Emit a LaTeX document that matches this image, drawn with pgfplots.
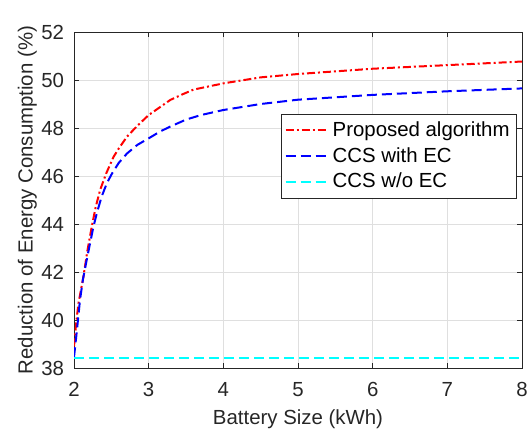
\documentclass[border=0pt]{standalone}
\usepackage{pgfplots}
\pgfplotsset{compat=1.18}
\usepackage{fontspec}
\setmainfont{Liberation Sans}
\definecolor{axgray}{RGB}{38,38,38}
\definecolor{gridgray}{RGB}{223,223,223}
\definecolor{mcyan}{RGB}{0,255,255}

\begin{document}
\fontsize{10.2pt}{12pt}\selectfont
\begin{tikzpicture}
\begin{axis}[
    scale only axis,
    width=224pt, height=168pt,
    xmin=2, xmax=8, ymin=38, ymax=52,
    xtick={2,3,...,8}, ytick={38,40,...,52},
    grid=major,
    major grid style={gridgray, line width=0.4pt},
    axis line style={axgray, line width=0.5pt},
    tick style={axgray, line width=0.5pt},
    tick align=inside, major tick length=2.5pt,
    ticklabel style={text=axgray, inner sep=1pt, font=\fontsize{10.2pt}{12pt}\selectfont},
    /pgf/number format/assume math mode=true,
    xticklabel style={yshift=-5.8pt},
    yticklabel style={xshift=-3.8pt},
    xlabel={Battery Size (kWh)},
    ylabel={Reduction of Energy Consumption (\%)},
    label style={text=axgray, font=\fontsize{10.2pt}{12pt}\selectfont},
    xlabel style={at={(axis description cs:0.5,-0.152)}, anchor=center},
    ylabel style={at={(axis description cs:-0.104,0.5)}, anchor=center},
    legend style={at={(0.989,0.756)}, anchor=north east, draw=axgray, fill=white,
        line width=0.5pt, font=\fontsize{10.2pt}{12pt}\selectfont,
        inner sep=1.5pt, row sep=0pt, cells={anchor=west}},
    legend image code/.code={\draw[#1] (0pt,0pt) -- (21pt,0pt);},
]
\addplot[red, line width=1pt, dash pattern=on 4pt off 1.5pt on 1pt off 1.5pt] coordinates {
    (2.00,38.9) (2.03,39.9) (2.06,40.7) (2.126,41.8) (2.18,42.9) (2.238,43.89)
    (2.29,44.7) (2.35,45.42) (2.43,46.1) (2.53,46.8) (2.60,47.15) (2.71,47.64)
    (2.85,48.1) (3.00,48.54) (3.29,49.17) (3.45,49.4) (3.60,49.6) (4.00,49.86)
    (4.50,50.11) (5.00,50.25) (6.00,50.47) (7.00,50.62) (8.00,50.77)
};
\addlegendentry{Proposed algorithm}
\addplot[blue, line width=1pt, dash pattern=on 5pt off 2.5pt] coordinates {
    (2.00,38.45) (2.04,39.6) (2.08,40.83) (2.12,41.7) (2.17,42.5) (2.26,43.89)
    (2.31,44.5) (2.37,45.14) (2.44,45.7) (2.51,46.11) (2.60,46.55) (2.71,46.94)
    (2.85,47.3) (3.00,47.57) (3.15,47.85) (3.29,48.06) (3.50,48.35) (3.70,48.54)
    (4.00,48.75) (4.50,49.0) (5.00,49.18) (6.00,49.38) (7.00,49.53) (8.00,49.65)
};
\addlegendentry{CCS with EC}
\addplot[mcyan, line width=1pt, dash pattern=on 5pt off 2.5pt] coordinates {
    (2,38.42) (8,38.42)
};
\addlegendentry{CCS w/o EC}
\end{axis}
\path ([xshift=-37pt,yshift=-34pt]current axis.south west) rectangle ([xshift=4.5pt,yshift=16pt]current axis.north east);
\end{tikzpicture}
\end{document}
